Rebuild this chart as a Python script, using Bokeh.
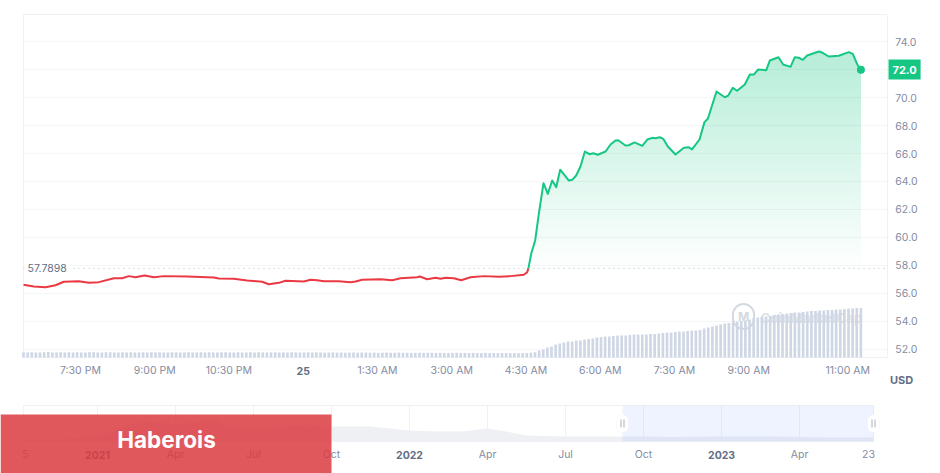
from bokeh.embed import file_html
from bokeh.resources import INLINE
from bokeh.models import (BoxAnnotation, FixedTicker, Label, LinearAxis, Range1d)
from bokeh.plotting import figure

# minutes after 18:20 on the 24th
red_time = [0, 12.5, 26.7, 38.8, 48.8, 67, 79.2, 91.3, 109.5, 119.6, 127.6, 135.8, 146.7, 158, 170,
            198.4, 230.7, 236.7, 254.9, 271, 289.3, 297.3, 309.5, 317.6, 339.8, 347.9, 356, 364,
            382.2, 396.4, 402.4, 410.5, 432.7, 446.9, 457, 477.2, 480.4, 489.3, 499.4, 505.5,
            511.5, 521.6, 530.5, 541.8, 557.9, 576.1, 590.3, 606.4, 610.5, 612]
red_price = [56.62, 56.50, 56.45, 56.59, 56.84, 56.88, 56.76, 56.81, 57.09, 57.09, 57.24, 57.16, 57.29,
             57.16, 57.24, 57.21, 57.14, 57.07, 57.05, 56.93, 56.84, 56.66, 56.76, 56.91, 56.86, 56.98,
             56.95, 56.88, 56.88, 56.81, 56.86, 56.98, 57.02, 56.95, 57.09, 57.16, 57.21, 57.02, 57.12,
             57.05, 57.12, 57.09, 56.95, 57.16, 57.24, 57.19, 57.24, 57.34, 57.52, 57.79]
green_time = [612, 615.4, 620.2, 624.6, 630.3, 635.5, 640.8, 645.7, 650.5, 661, 665.1, 669.9, 675.1,
              680.4, 686.1, 690.5, 696.1, 705.5, 711.5, 717.6, 720.8, 729.7, 733.7, 740.6, 750, 756.1,
              762.1, 766, 771.3, 775.4, 781, 790.3, 800.4, 806.4, 810.3, 819.4, 825.4, 829.5, 840, 850,
              854.2, 859.7, 865, 874.3, 880.4, 885.2, 890.5, 900.3, 904.6, 915.1, 920.8, 929.7, 934.9,
              939.7, 944.6, 949.9, 964, 968.1, 976.1, 988.2, 1000.4, 1005.2, 1010.6, 1015]
green_price = [57.79, 58.84, 59.79, 61.69, 63.88, 63.12, 64.07, 63.59, 64.84, 64.07, 64.12, 64.43, 65.07,
               66.14, 65.95, 66.02, 65.91, 66.14, 66.64, 66.93, 66.95, 66.57, 66.59, 66.79, 66.55, 67.00,
               67.12, 67.09, 67.16, 67.05, 66.50, 65.93, 66.41, 66.45, 66.29, 67.00, 68.24, 68.48, 70.43,
               70.02, 70.14, 70.69, 70.48, 70.93, 71.64, 71.64, 72.00, 71.95, 72.64, 72.88, 72.36, 72.19,
               72.88, 72.84, 72.69, 73.00, 73.29, 73.21, 72.93, 72.98, 73.24, 73.12, 72.36, 71.98]
baseline = 57.7898
last_price = "72.0"

# one bar every five minutes
volume = [5.2, 5.0, 5.3, 5.1, 5.0, 5.2, 5.4, 5.1, 5.0, 5.2, 5.1, 5.3,
          5.0, 5.2, 5.1, 5.0, 5.3, 5.2, 5.1, 5.0, 5.2, 5.3, 5.1, 5.0,
          5.2, 5.1, 5.3, 5.0, 5.1, 5.2, 5.0, 5.3, 5.1, 5.2, 5.0, 5.1,
          5.3, 5.2, 5.0, 5.1, 5.2, 5.0, 5.1, 5.3, 5.0, 5.2, 5.1, 5.0,
          5.2, 5.3, 5.0, 5.1, 5.2, 5.0, 5.1, 5.2, 5.0, 5.3, 5.1, 5.0,
          5.1, 5.2, 5.0, 5.1, 5.0, 5.2, 5.1, 5.0, 5.1, 5.2, 5.0, 5.1,
          5.0, 4.9, 5.0, 5.1, 4.9, 5.0, 4.8, 4.9, 5.0, 4.8, 4.9, 5.0,
          4.8, 4.9, 4.7, 4.8, 4.9, 4.7, 4.8, 4.9, 4.7, 4.8, 4.6, 4.7,
          4.8, 4.6, 4.7, 4.8, 4.6, 4.7, 4.6, 4.5, 4.6, 4.7, 4.5, 4.6,
          4.5, 4.6, 4.4, 4.5, 4.6, 4.4, 4.5, 4.4, 4.5, 4.4, 4.3, 4.4,
          4.3, 4.4, 4.5, 4.8, 5.2, 7, 8, 10, 11, 13, 14, 15, 16, 16, 17, 17,
          18, 18.5, 19, 20, 20.5, 21, 21, 21.5, 22, 22, 22, 22.5, 23, 23, 23, 23,
          23.5, 23.5, 24, 24.5, 25, 25, 25.5, 26, 26, 26.5, 27, 27, 27.5, 29, 30, 31,
          32, 33, 34, 34.5, 35, 36, 36.5, 37, 38, 39.5, 40, 40.5, 41, 41.5, 42.5, 43,
          43.5, 44, 44.5, 45, 45, 45.5, 46, 46.5, 46.5, 47, 47, 47.5, 47.5, 48, 48, 48.5,
          49, 49, 49.5, 49.5]
volume_time = list(range(0, 5 * len(volume), 5))

price_ticks = [52, 54, 56, 58, 60, 62, 64, 66, 68, 70, 72, 74]
price_labels = ["52.0", "54.0", "56.0", "58.0", "60.0", "62.0", "64.0", "66.0", "68.0", "70.0", "", "74.0"]
time_ticks = [69, 159, 249, 429, 519, 609, 699, 789, 879, 999]
time_labels = ["7:30 PM", "9:00 PM", "10:30 PM", "1:30 AM", "3:00 AM", "4:30 AM", "6:00 AM", "7:30 AM",
               "9:00 AM", "11:00 AM"]
day_tick = 339
day_label = "25"

# navigator: months after Jan 2021, relative level of the long-range history
hist_month = [-2.85, -1, 0, 0.6, 1.2, 2, 3, 4, 4.6, 5, 6, 7, 8, 9, 9.5, 10.5, 12, 13, 14, 15, 15.5, 16.5,
              18, 20, 21, 22, 24, 26, 28, 29.85]
hist_level = [2, 3, 5, 10, 18, 20, 18, 20, 21, 14, 13, 15, 16, 15, 15, 15, 11, 10, 10, 13, 11, 6,
              5, 5, 5, 4.5, 5, 5, 4, 4]
nav_ticks = [-2.77, 3, 6, 9, 15, 18, 21, 27, 29.65]
nav_labels = ["5", "Apr", "Jul", "Oct", "Apr", "Jul", "Oct", "Apr", "23"]
year_ticks = [0, 12, 24]
year_labels = ["2021", "2022", "2023"]
nav_grid = [0, 3, 6, 9, 12, 15, 18, 21, 24, 27]
selection = (20.19, 29.85)

FONT = "Inter"
GREY = "#858ca2"
DARK = "#616e85"
GREEN = "#16c784"
RED = "#ea3943"
LINE = "#eff2f5"

# the frame fills the page; these ranges place the panels inside it
p = figure(width=940, height=473, output_backend="svg", toolbar_location=None,
           x_range=Range1d(-27.9, 1111.5), y_range=Range1d(43.14, 76.93),
           x_axis_location=None, y_axis_location=None,
           min_border=0, outline_line_color=None, margin=(0, 0, 0, 0),
           background_fill_color="white", border_fill_color="white")
p.extra_y_ranges = {"volume": Range1d(-116, 357), "nav": Range1d(-32, 441)}
p.extra_x_ranges = {"nav": Range1d(-3.73, 32.42)}
p.grid.visible = False

chart_right = 1047.3
chart_top, chart_bottom = 75.93, 51.43

# green gradient: nested opaque bands, then the part above the price is masked white
top_price = max(green_price)
steps = 48
tops = [baseline + (top_price - baseline) * (steps - i) / steps for i in range(steps)]
band_colors = []
for i in range(steps):
    a = 0.31 * (steps - i) / steps
    band_colors.append("#%02x%02x%02x" % (round(255 - 233 * a), round(255 - 56 * a), round(255 - 123 * a)))
p.quad(left=green_time[0], right=green_time[-1], bottom=baseline, top=tops, fill_color=band_colors, line_color=None)
mask_top = top_price + 0.1
p.patch(x=green_time + [green_time[-1], green_time[0]], y=green_price + [mask_top, mask_top],
        fill_color="white", line_color="white", line_width=1)

p.segment(x0=[0] * len(price_ticks), x1=[chart_right] * len(price_ticks), y0=price_ticks, y1=price_ticks,
          line_color="#1f2a44", line_alpha=0.045, line_width=1)
p.quad(left=0, right=chart_right, bottom=chart_bottom, top=chart_top, fill_color=None, line_color=LINE)
p.line([0, chart_right], [baseline, baseline], line_color="#b9bfcb", line_width=1, line_dash="1 4")

# watermark sits behind the bars
p.add_layout(Label(x=743, y=316, x_units="canvas", y_units="canvas", text="M", text_align="center",
                   text_baseline="middle", text_font=FONT, text_font_style="bold", text_font_size="12px",
                   text_color="#d3d8e2", border_line_color="#d3d8e2", border_line_width=2,
                   border_radius=11, padding=5, level="underlay"))
p.add_layout(Label(x=760, y=317, x_units="canvas", y_units="canvas", text="CoinMarketCap",
                   text_baseline="middle", text_font=FONT, text_font_style="bold", text_font_size="13.3px",
                   text_color="#dfe3ea", level="underlay"))

p.vbar(x=volume_time, top=volume, bottom=0, width=3.2, y_range_name="volume",
       fill_color="#cfd6e4", line_color=None)

p.line(red_time, red_price, line_color=RED, line_width=2)
p.line(green_time, green_price, line_color=GREEN, line_width=2, line_join="round")
p.scatter([green_time[-1]], [green_price[-1]], size=8, fill_color=GREEN, line_color=None)

# axes
y_ax = LinearAxis(ticker=FixedTicker(ticks=price_ticks), fixed_location=1041,
                  major_label_overrides=dict(zip(price_ticks, price_labels)))
x_ax = LinearAxis(ticker=FixedTicker(ticks=time_ticks), fixed_location=51.9,
                  major_label_overrides=dict(zip(time_ticks, time_labels)))
n_ax = LinearAxis(ticker=FixedTicker(ticks=nav_ticks), fixed_location=7, x_range_name="nav", y_range_name="nav",
                  major_label_overrides=dict(zip(nav_ticks, nav_labels)))
for ax, side in ((x_ax, "below"), (y_ax, "right"), (n_ax, "below")):
    ax.axis_line_color = None
    ax.major_tick_line_color = None
    ax.minor_tick_line_color = None
    ax.major_label_text_color = GREY
    ax.major_label_text_font = FONT
    ax.major_label_text_font_size = "10.5px"
    ax.major_label_standoff = 7
    p.add_layout(ax, side)

p.add_layout(Label(x=24, y=baseline, x_units="canvas", text=f"{baseline:.4f}", text_baseline="middle",
                   text_font=FONT, text_font_size="10.5px", text_color=DARK, background_fill_color="white",
                   padding=3))
p.add_layout(Label(x=888, y=72, x_units="canvas", text=last_price, text_baseline="middle",
                   text_font=FONT, text_font_style="bold", text_font_size="11px", text_color="white",
                   background_fill_color=GREEN, padding=(4, 6)))
p.add_layout(Label(x=day_tick, y=370, y_units="canvas", text=day_label, text_align="center",
                   text_baseline="middle", text_font=FONT, text_font_style="bold", text_font_size="10.5px",
                   text_color=DARK))
p.add_layout(Label(x=901, y=379, x_units="canvas", y_units="canvas", text="USD", text_align="center",
                   text_baseline="middle", text_font=FONT, text_font_style="bold", text_font_size="11px",
                   text_color=DARK))

# navigator
nav_left, nav_right = selection[0] - 23.04, selection[1]
nav_top = 36
p.segment(x0=nav_grid, x1=nav_grid, y0=[0] * len(nav_grid), y1=[nav_top] * len(nav_grid), line_color=LINE,
          x_range_name="nav", y_range_name="nav")
p.varea(x=hist_month, y1=[0] * len(hist_level), y2=hist_level, fill_color="#eef0f4",
        x_range_name="nav", y_range_name="nav")
p.quad(left=nav_left, right=nav_right, bottom=0, top=nav_top, fill_color=None, line_color=LINE,
       x_range_name="nav", y_range_name="nav")
p.quad(left=selection[0], right=selection[1], bottom=0, top=nav_top, fill_color="#3861fb", fill_alpha=0.08,
       line_color=None, x_range_name="nav", y_range_name="nav")
for month, text in zip(year_ticks, year_labels):
    p.add_layout(Label(x=month, y=454, x_range_name="nav", y_units="canvas", text=text, text_align="center",
                       text_baseline="middle", text_font=FONT, text_font_style="bold", text_font_size="10.5px",
                       text_color=DARK))
for cx in (622, 873):
    p.add_layout(BoxAnnotation(left=cx - 6, right=cx + 6, top=414, bottom=432, left_units="canvas",
                               right_units="canvas", top_units="canvas", bottom_units="canvas",
                               fill_color="white", fill_alpha=1, line_color="#e8eaf0", border_radius=6))
    for dx in (-2, 1):
        p.add_layout(BoxAnnotation(left=cx + dx, right=cx + dx + 1, top=419, bottom=427, left_units="canvas",
                                   right_units="canvas", top_units="canvas", bottom_units="canvas",
                                   fill_color="#a6b0c3", fill_alpha=1, line_color=None))

# banner over the navigator
p.add_layout(BoxAnnotation(left=0, right=331, top=414, bottom=473, left_units="canvas", right_units="canvas",
                           top_units="canvas", bottom_units="canvas", fill_color="#db3b40", fill_alpha=0.85,
                           line_color=None, level="overlay"))
p.add_layout(Label(x=166, y=439, x_units="canvas", y_units="canvas", text="Haberois", text_align="center",
                   text_baseline="middle", text_font=FONT, text_font_style="bold", text_font_size="22.5px",
                   text_color="white", level="overlay"))

open("out.html", "w").write(file_html(p, INLINE))
